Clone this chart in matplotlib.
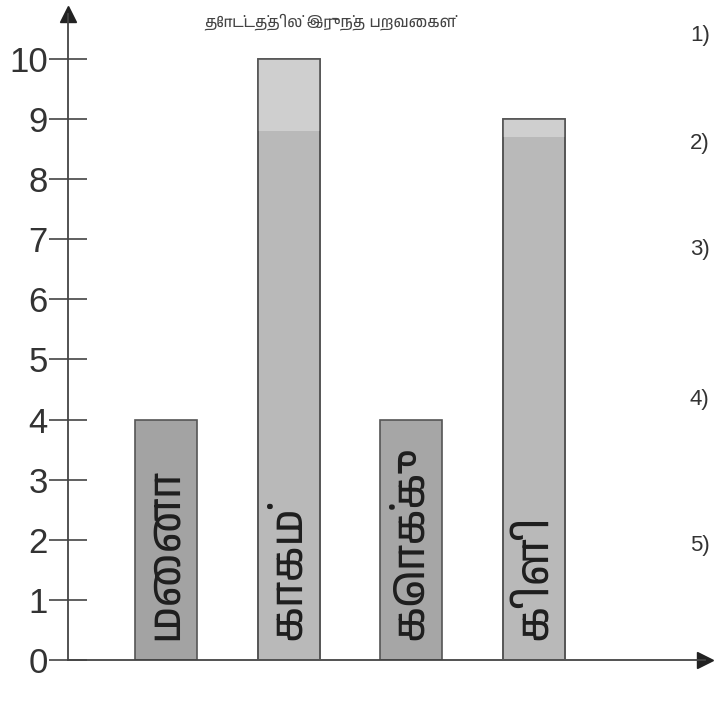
import matplotlib
matplotlib.use("Agg")
import matplotlib.pyplot as plt
from matplotlib import font_manager

birds = ["மைனா", "காகம்", "கொக்கு", "கிளி"]
counts = [4, 10, 4, 9]
bar_colors = ["#a3a3a3", "#b9b9b9", "#a6a6a6", "#b9b9b9"]
yticks = list(range(0, 11))
title = "தோட்டத்தில் இருந்த பறவைகள்"
side_labels = ["1)", "2)", "3)", "4)", "5)"]
side_y_px = [35, 143, 250, 400, 545]

tamil_fams = [f.name for f in font_manager.fontManager.ttflist if "Tamil" in f.name]
fams = (tamil_fams[:1] if tamil_fams else []) + ["Noto Sans", "DejaVu Sans"]

W, H = 717, 707
fig = plt.figure(figsize=(W / 100, H / 100), dpi=100)
fig.patch.set_facecolor("white")
left, right, bottom, top = 68, 705, 660, 14
ax = fig.add_axes([left / W, 1 - bottom / H, (right - left) / W, (bottom - top) / H])

pos = [1, 2, 3, 4]
bw = 0.506
ax.bar(pos, counts, width=bw, color=bar_colors, edgecolor="#555555", linewidth=1.2, zorder=2)
for x, c in zip(pos, counts):
    if c >= 9:
        h = 0.3 if c == 9 else 1.2
        ax.bar([x], [h], bottom=c - h, width=bw, color="#cfcfcf", edgecolor="none", zorder=2.5)
        ax.bar([x], [c], width=bw, color="none", edgecolor="#555555", linewidth=1.2, zorder=3)
for x, name in zip(pos, birds):
    ax.text(x, 0.33, name, rotation=90, ha="center", va="bottom", fontsize=32,
            family=fams, color="#1e1e1e", zorder=4)

ax.set_xlim(0.196, 5.396)
ax.set_ylim(0, (bottom - top) / 60.1)
ax.set_yticks(yticks)
ax.set_yticklabels([str(t) for t in yticks], family=["Liberation Sans"], fontsize=25, color="#333333")
ax.tick_params(axis="y", direction="inout", length=27, width=1.2, color="#444444", pad=1)
ax.set_xticks([])
for s in ["top", "right"]:
    ax.spines[s].set_visible(False)
for s in ["left", "bottom"]:
    ax.spines[s].set_color("#444444")
    ax.spines[s].set_linewidth(1.3)
ax.plot([0], [1], marker="^", markersize=11, color="#222222", transform=ax.transAxes, clip_on=False)
ax.plot([1], [0], marker=">", markersize=11, color="#222222", transform=ax.transAxes, clip_on=False)

fig.text(330 / W, 1 - 22 / H, title, ha="center", va="center", fontsize=11, family=fams, color="#444444")
for lab, yp in zip(side_labels, side_y_px):
    fig.text(690 / W, 1 - yp / H, lab, ha="left", va="center", fontsize=16,
             family=["Liberation Sans"], color="#333333")

fig.savefig("out.png", dpi=100, facecolor="white")
